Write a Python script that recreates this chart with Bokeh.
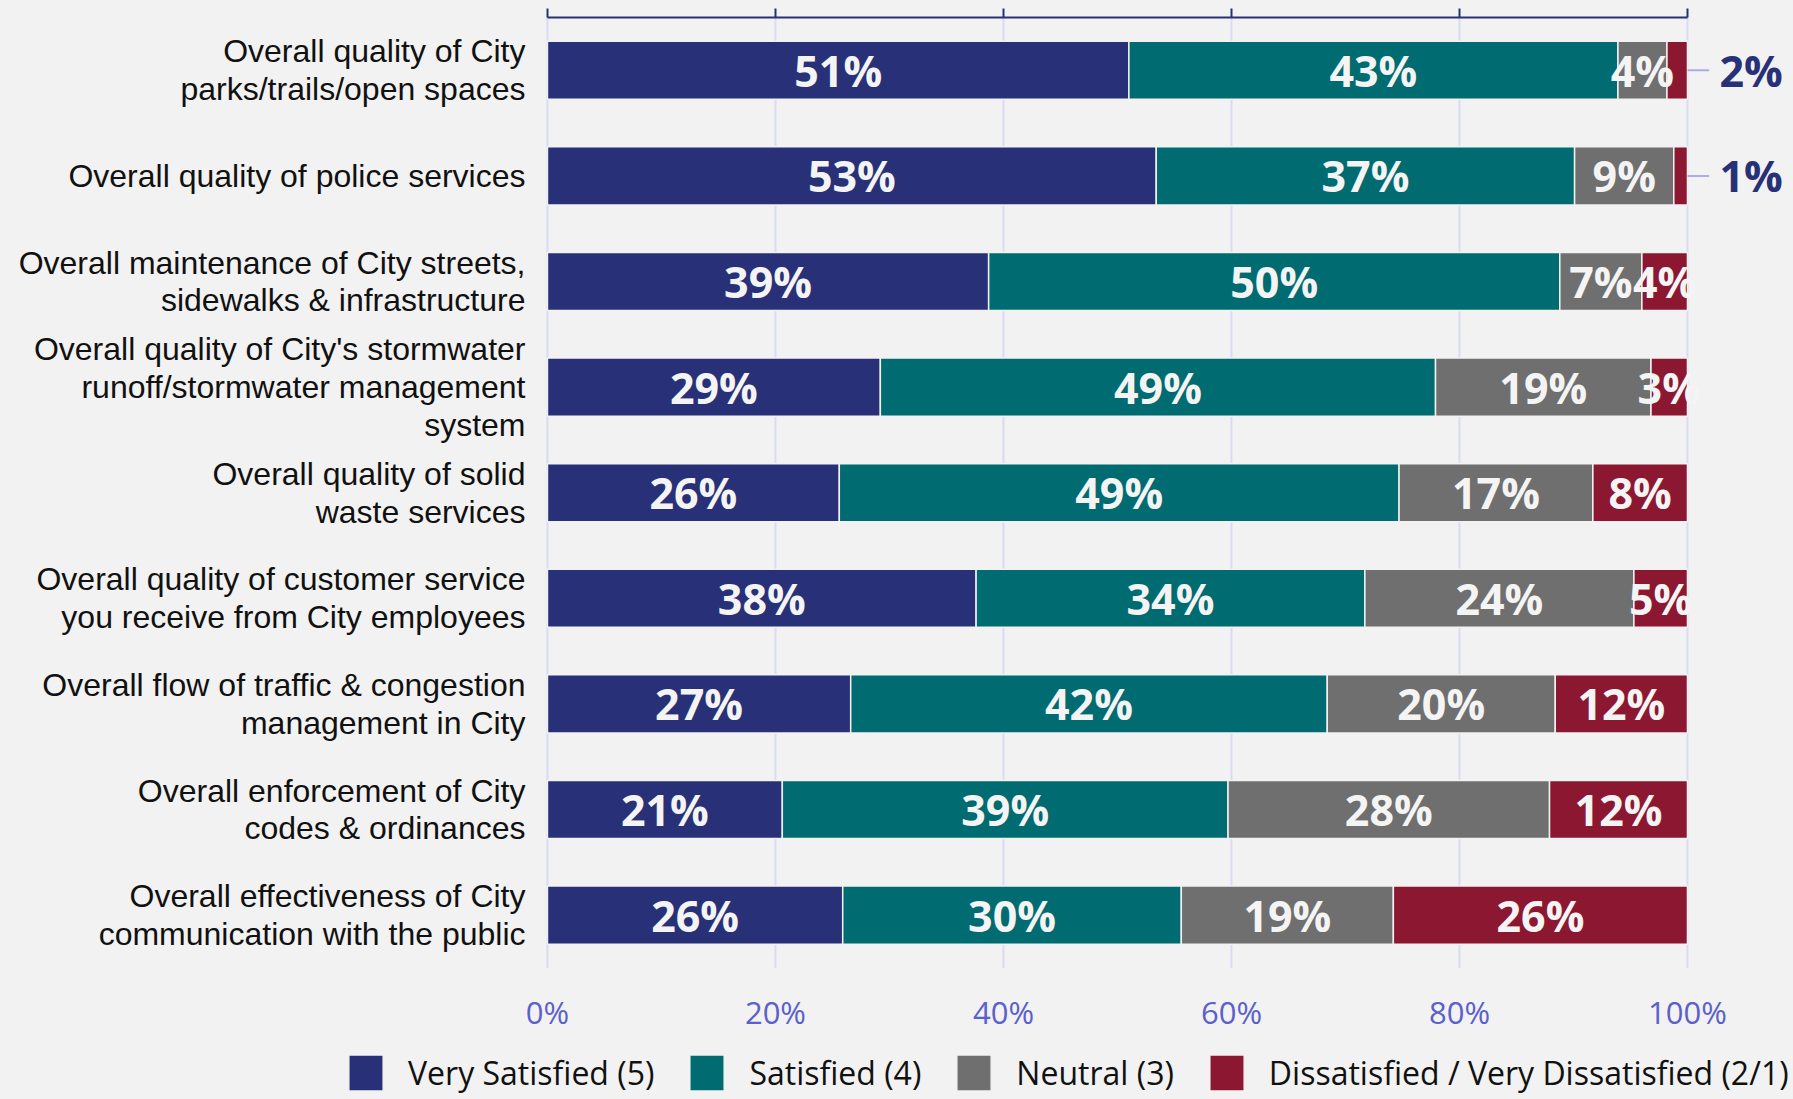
from bokeh.plotting import figure
from bokeh.models import (ColumnDataSource, Range1d, FixedTicker, LinearAxis,
                          Legend, LegendItem, CustomJSTickFormatter)
from bokeh.core.properties import value
from bokeh.embed import file_html
from bokeh.resources import INLINE

categories = [
    "Overall quality of City\nparks/trails/open spaces",
    "Overall quality of police services",
    "Overall maintenance of City streets,\nsidewalks & infrastructure",
    "Overall quality of City's stormwater\nrunoff/stormwater management\nsystem",
    "Overall quality of solid\nwaste services",
    "Overall quality of customer service\nyou receive from City employees",
    "Overall flow of traffic & congestion\nmanagement in City",
    "Overall enforcement of City\ncodes & ordinances",
    "Overall effectiveness of City\ncommunication with the public",
]
series_names = ["Very Satisfied (5)", "Satisfied (4)", "Neutral (3)",
                "Dissatisfied / Very Dissatisfied (2/1)"]
very_satisfied = [51.0, 53.4, 38.7, 29.2, 25.6, 37.6, 26.6, 20.6, 25.9]
satisfied      = [42.9, 36.7, 50.1, 48.7, 49.1, 34.1, 41.8, 39.1, 29.7]
neutral        = [4.3, 8.7, 7.2, 18.9, 17.0, 23.6, 20.0, 28.2, 18.6]
dissatisfied   = [1.8, 1.2, 4.0, 3.2, 8.3, 4.7, 11.6, 12.1, 25.8]
tick_values = [0, 20, 40, 60, 80, 100]

colors = ["#283177", "#006b70", "#6f6f6f", "#8c1731"]
BG = "#f2f2f2"
keys = ["vs", "s", "n", "d"]
series = [very_satisfied, satisfied, neutral, dissatisfied]
n_cat = len(categories)
ypos = [n_cat - 1 - i for i in range(n_cat)]   # first category on top

src = ColumnDataSource(dict(y=ypos, vs=very_satisfied, s=satisfied,
                            n=neutral, d=dissatisfied))

p = figure(frame_width=1459, frame_height=1082,
           y_range=Range1d(-1.746, n_cat - 0.5),
           x_range=Range1d(-18.68, 109.3),
           x_axis_location=None,
           output_backend="svg", toolbar_location=None,
           min_border_left=334, min_border_right=0, min_border_top=17,
           min_border_bottom=0)
p.background_fill_color = BG
p.border_fill_color = BG
p.outline_line_color = None
p.grid.grid_line_color = None

# vertical grid lines over the category band only
p.segment(x0=tick_values, x1=tick_values, y0=[n_cat - 0.5] * len(tick_values),
          y1=[-0.5] * len(tick_values), line_color="#d8dbf3", line_width=2)

renderers = p.hbar_stack(keys, y="y", height=0.55, color=colors, source=src,
                         line_color=BG, line_width=1.5)

# value labels
lx, ly, lt = [], [], []
ox, oy, ot, sx0, sx1 = [], [], [], [], []
for i, yv in enumerate(ypos):
    cum = 0.0
    for vals in series:
        v = vals[i]
        if v >= 2.5:
            lx.append(cum + v / 2)
            ly.append(yv)
            lt.append(f"{round(v)}%")
        else:
            sx0.append(cum + v)
            sx1.append(cum + v + 1.9)
            ox.append(cum + v + 2.8)
            oy.append(yv)
            ot.append(f"{round(v)}%")
        cum += v

p.text(x=lx, y=ly, text=lt, text_align="center", text_baseline="middle",
       text_color="#f4f4f4", text_font=value("Open Sans"), text_font_style="bold",
       text_font_size="43px")
p.segment(x0=sx0, x1=sx1, y0=oy, y1=oy, line_color="#a9acec", line_width=2)
p.text(x=ox, y=oy, text=ot, text_align="left", text_baseline="middle",
       text_color="#283177", text_font=value("Open Sans"), text_font_style="bold",
       text_font_size="43px")

# x tick labels under the bars
p.text(x=tick_values, y=[-0.913] * len(tick_values),
       text=[f"{t}%" for t in tick_values], text_align="center",
       text_baseline="middle", text_color="#5a60cc",
       text_font=value("Open Sans"), text_font_size="31px")

# left axis: category names (pushed right so they end just left of the bars)
ya = p.left[0]
ya.ticker = FixedTicker(ticks=ypos)
ya.major_label_overrides = {yv: c for yv, c in zip(ypos, categories)}
ya.axis_line_color = None
ya.major_tick_line_color = None
ya.major_tick_out = 0
ya.minor_tick_line_color = None
ya.major_label_text_font = "Liberation Sans"
ya.major_label_text_font_size = "32px"
ya.major_label_text_color = "#111111"
ya.major_label_text_line_height = 1.05
ya.major_label_standoff = -191

# top axis (line + outward ticks, no labels)
top = LinearAxis(ticker=FixedTicker(ticks=tick_values), bounds=(0, 100),
                 axis_line_color="#283075", axis_line_width=2,
                 major_tick_line_color="#283075", major_tick_line_width=2,
                 major_tick_in=0, major_tick_out=9, minor_tick_line_color=None,
                 formatter=CustomJSTickFormatter(code="return ''"),
                 major_label_text_font_size="1px", major_label_standoff=0)
p.add_layout(top, "above")

legend = Legend(items=[LegendItem(label=n, renderers=[r])
                       for n, r in zip(series_names, renderers)],
                orientation="horizontal", location=(10, 4),
                glyph_width=43, glyph_height=45, label_standoff=21, spacing=31,
                padding=0, margin=0, border_line_color=None,
                background_fill_alpha=0, label_text_font="Open Sans",
                label_text_font_size="32px", label_text_color="#111111",
                label_height=45)
p.add_layout(legend)

html = file_html(p, INLINE)
html = html.replace("<head>", "<head><style>body{background:#f2f2f2;}</style>", 1)
open("out.html", "w").write(html)
